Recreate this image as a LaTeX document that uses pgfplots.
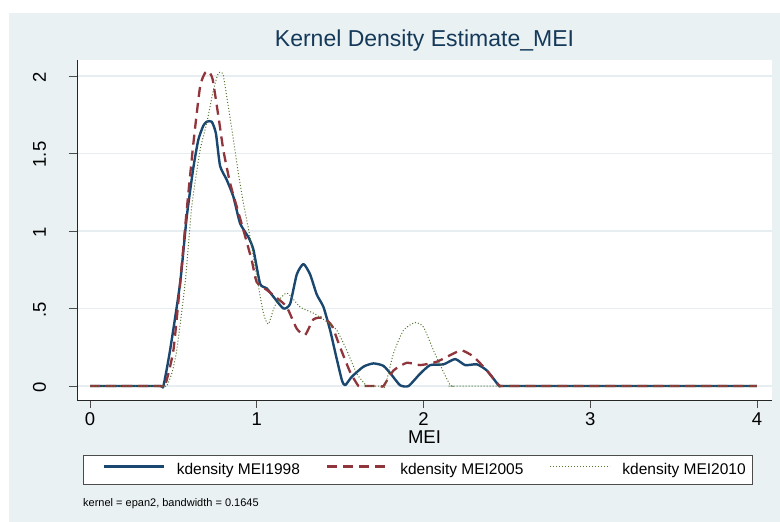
\documentclass[border=0pt]{standalone}
\usepackage{pgfplots}
\pgfplotsset{compat=1.18}
\usepackage{fontspec}
\setmainfont{Liberation Sans}

\definecolor{stnavy}{RGB}{26,71,111}
\definecolor{stmaroon}{RGB}{144,53,59}
\definecolor{stgreen}{RGB}{85,117,47}
\definecolor{regionbg}{RGB}{233,241,243}
\definecolor{gridcol}{RGB}{230,238,241}

\begin{document}
\begin{tikzpicture}
% page and graph region
\path[use as bounding box] (0pt,0pt) rectangle (780pt,522pt);
\fill[white] (0pt,0pt) rectangle (780pt,522pt);
\fill[regionbg] (9pt,0pt) rectangle (780pt,509pt);

\begin{axis}[
  at={(77pt,122pt)}, anchor=south west,
  scale only axis, width=695pt, height=340pt,
  xmin=-0.078, xmax=4.09, ymin=-0.09, ymax=2.103,
  axis background/.style={fill=white},
  axis lines=left,
  axis line style={-, draw=black!85, line width=0.8pt},
  tick align=outside, major tick length=8pt,
  tick style={draw=black!70, line width=0.8pt},
  xtick={0,1,2,3,4},
  ytick={0,0.5,1,1.5,2},
  yticklabels={0,.5,1,1.5,2},
  /pgf/number format/assume math mode=true,
  ticklabel style={font=\fontsize{18.5}{22}\selectfont},
  xticklabel style={anchor=north, yshift=-1pt},
  yticklabel style={rotate=90, anchor=base, xshift=-1pt, yshift=23pt},
  ymajorgrids,
  major grid style={draw=gridcol, line width=1.3pt},
  xlabel={MEI},
  xlabel style={font=\fontsize{18.5}{22}\selectfont, at={(axis description cs:0.5,0)}, anchor=base, yshift=-44pt},
  title={Kernel Density Estimate\_MEI},
  title style={font=\fontsize{23}{27}\selectfont, text=stnavy!80!black, at={(axis description cs:0.5,1)}, anchor=base, yshift=7pt},
  legend columns=3,
  legend style={
    at={(axis description cs:0.0086,-0.162)}, anchor=north west,
    draw=black!70, line width=0.8pt, fill=white,
    font=\fontsize{15.5}{18}\selectfont,
    inner xsep=7pt, inner ysep=8pt,
    nodes={inner sep=0pt, line width=0.4pt},
    /tikz/every odd column/.append style={column sep=12pt},
    /tikz/every even column/.append style={column sep=14pt},
  },
  legend image code/.code={\path (0pt,0pt); \draw[#1] (12pt,0.33em) -- (72pt,0.33em);},
]

% kdensity MEI1998
\addplot[stnavy, line width=2.4pt, line join=round, smooth, tension=0.35] coordinates {
(0,0) (0.2,0) (0.42,0) (0.44,0) (0.48,0.23) (0.54,0.66) (0.58,1.09) (0.62,1.41) (0.65,1.59)
(0.68,1.68) (0.70,1.705) (0.73,1.705) (0.755,1.63) (0.78,1.42) (0.82,1.33)
(0.86,1.22) (0.90,1.05) (0.95,0.96) (0.98,0.88) (1.02,0.66) (1.06,0.63)
(1.10,0.576) (1.16,0.50) (1.20,0.53) (1.24,0.72) (1.28,0.787) (1.32,0.72)
(1.36,0.59) (1.40,0.51) (1.44,0.36) (1.47,0.22) (1.51,0.04) (1.53,0.005)
(1.57,0.06) (1.64,0.125) (1.70,0.146) (1.76,0.13) (1.81,0.07) (1.86,0.005)
(1.91,0) (1.98,0.08) (2.04,0.135) (2.12,0.14) (2.19,0.174) (2.25,0.135)
(2.32,0.14) (2.38,0.10) (2.45,0.005) (2.46,0) (2.48,0) (3,0) (4,0)
};
\addlegendentry{kdensity MEI1998}

% kdensity MEI2005
\addplot[stmaroon, line width=2.3pt, dash pattern=on 10pt off 6pt, smooth, tension=0.35] coordinates {
(0,0) (0.2,0) (0.43,0) (0.45,0) (0.50,0.23) (0.54,0.66) (0.58,1.135) (0.62,1.566) (0.66,1.93)
(0.69,2.02) (0.71,2.03) (0.735,1.98) (0.77,1.74) (0.80,1.52) (0.84,1.31)
(0.88,1.157) (0.92,1.006) (0.97,0.81) (1.00,0.67) (1.06,0.62) (1.13,0.56)
(1.18,0.51) (1.24,0.37) (1.29,0.33) (1.34,0.43) (1.40,0.44) (1.45,0.39)
(1.50,0.25) (1.56,0.09) (1.61,0) (1.63,0) (1.74,0) (1.76,0) (1.82,0.10) (1.90,0.15)
(1.98,0.135) (2.08,0.157) (2.18,0.21) (2.23,0.23) (2.30,0.19) (2.38,0.10)
(2.44,0.02) (2.46,0) (2.48,0) (3,0) (4,0)
};
\addlegendentry{kdensity MEI2005}

% kdensity MEI2010
\addplot[stgreen, line width=1pt, dash pattern=on 1pt off 2pt, smooth, tension=0.35] coordinates {
(0,0) (0.2,0) (0.44,0) (0.46,0) (0.49,0.08) (0.52,0.23) (0.57,0.66) (0.61,1.157) (0.66,1.52)
(0.70,1.695) (0.74,1.91) (0.77,2.02) (0.79,2.02) (0.80,2.0) (0.83,1.80)
(0.86,1.59) (0.89,1.37) (0.92,1.18) (0.96,0.96) (1.00,0.705) (1.04,0.47)
(1.07,0.40) (1.11,0.52) (1.18,0.60) (1.26,0.51) (1.34,0.47) (1.42,0.415)
(1.48,0.36) (1.54,0.23) (1.60,0.08) (1.66,0) (1.68,0) (1.75,0) (1.77,0) (1.82,0.21)
(1.88,0.36) (1.95,0.41) (2.00,0.38) (2.06,0.23) (2.12,0.09) (2.16,0.005)
(2.17,0) (2.19,0) (3,0) (4,0)
};
\addlegendentry{kdensity MEI2010}
\end{axis}

\node[anchor=base west, inner sep=0pt, font=\fontsize{11}{13}\selectfont] at (83pt,15pt) {kernel = epan2, bandwidth = 0.1645};
\end{tikzpicture}
\end{document}
